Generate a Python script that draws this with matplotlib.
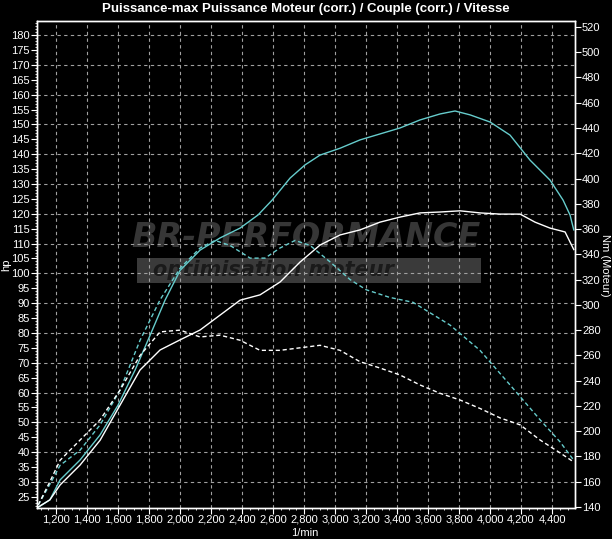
import numpy as np
import matplotlib
matplotlib.use("Agg")
import matplotlib.pyplot as plt
from matplotlib.patches import Rectangle
from matplotlib.ticker import MultipleLocator

plt.rcParams['font.family'] = ['Liberation Sans Narrow', 'Liberation Sans', 'DejaVu Sans']

# run 1 (cyan): power hp / torque Nm
rpm_p1 = [1085, 1160, 1226, 1355, 1484, 1600, 1710, 1794, 1903, 2000, 2129, 2258, 2387,
          2503, 2594, 2710, 2806, 2903, 3032, 3161, 3290, 3419, 3548, 3677, 3774, 3871,
          4000, 4129, 4258, 4387, 4471, 4516, 4540]
hp_p1 = [21.5, 24, 30.7, 37.4, 45.8, 55.8, 67.6, 77.7, 91, 101, 107.8, 111.9, 115.2,
         119.6, 124.6, 132, 136.4, 139.7, 142, 144.8, 146.8, 148.8, 151.5, 153.5, 154.5,
         153.2, 150.8, 146.4, 138, 131.3, 124.6, 119.6, 114.6]
rpm_t1 = [1085, 1160, 1226, 1355, 1484, 1613, 1742, 1871, 2000, 2129, 2226, 2323, 2452,
          2548, 2645, 2742, 2839, 2968, 3097, 3200, 3350, 3503, 3742, 3935, 4129, 4323,
          4452, 4540]
nm_t1 = [141.6, 158, 173, 185, 205, 232.6, 272, 304, 329, 345, 351, 347, 337, 337, 345,
         351, 347, 334, 320, 312, 306, 302, 284, 264, 236.6, 209, 191.5, 177]

# run 2 (white): power hp / torque Nm
rpm_p2 = [1085, 1160, 1226, 1355, 1484, 1613, 1742, 1871, 2000, 2129, 2258, 2387, 2516,
          2645, 2774, 2903, 3032, 3161, 3290, 3419, 3548, 3677, 3806, 3935, 4065, 4194,
          4290, 4387, 4484, 4540]
hp_p2 = [21.6, 24, 29, 35.7, 44, 55.8, 67.6, 74.3, 77.7, 81, 86, 91, 92.8, 97.1, 103.8,
         109.5, 112.9, 114.6, 117.2, 118.9, 120.3, 120.6, 121, 120.3, 119.9, 119.9,
         117.2, 115.2, 113.9, 108]
rpm_t2 = [1085, 1160, 1226, 1355, 1484, 1613, 1742, 1871, 2000, 2129, 2258, 2387, 2516,
          2645, 2774, 2903, 3032, 3161, 3290, 3419, 3548, 3677, 3806, 3935, 4065, 4194,
          4323, 4452, 4540]
nm_t2 = [141.6, 160, 177, 193, 209, 232.6, 260, 278.6, 280, 274.6, 276, 272, 264, 264,
         266, 268, 264, 255, 250, 244.5, 236.6, 230, 224.7, 218, 210.5, 205, 193, 182.8,
         175.6]

x_ticks = np.arange(1200, 4401, 200)
hp_ticks = np.arange(25, 181, 5)
hp_grid = np.arange(30, 181, 10)
nm_ticks = np.arange(140, 521, 20)

cyan = '#66cccc'
fig = plt.figure(figsize=(6.12, 5.39), dpi=100, facecolor='black')
ax = fig.add_axes([37 / 612, 31 / 539, 538 / 612, 487 / 539], facecolor='black')
ax2 = ax.twinx()

ax.set_xlim(1077, 4548)
ax.set_ylim(21.27, 184.7)
ax2.set_ylim(139.2, 524.7)

# watermark
ax.text(0.5, 0.555, 'BR-PERFORMANCE', transform=ax.transAxes, ha='center', va='center',
        fontsize=24, fontweight='bold', style='italic', color='#363636',
        family=['DejaVu Sans'], zorder=0)
ax.add_patch(Rectangle((0.185, 0.462), 0.64, 0.052, transform=ax.transAxes,
                       facecolor='#3a3a3a', edgecolor='none', zorder=0))
ax.text(0.44, 0.488, 'optimisation moteur', transform=ax.transAxes, ha='center',
        va='center', fontsize=15, style='italic', fontweight='bold', color='#1a1a1a',
        family=['DejaVu Sans'], zorder=0)

for v in hp_grid:
    ax.axhline(v, color='#a0a0a0', lw=0.8, ls=(0, (3, 3)), zorder=1)
for v in x_ticks:
    ax.axvline(v, color='#a0a0a0', lw=0.8, ls=(0, (3, 3)), zorder=1)

ax.plot(rpm_p1, hp_p1, color=cyan, lw=1.0, zorder=3)
ax.plot(rpm_p2, hp_p2, color='white', lw=1.0, zorder=3)
ax2.plot(rpm_t1, nm_t1, color=cyan, lw=1.0, ls=(0, (3, 2)), zorder=3)
ax2.plot(rpm_t2, nm_t2, color='white', lw=1.0, ls=(0, (3, 2)), zorder=3)

ax.set_xticks(x_ticks)
ax.set_xticklabels([f'{v:,}' for v in x_ticks])
ax.set_yticks(hp_ticks)
ax.yaxis.set_minor_locator(MultipleLocator(1))
ax.xaxis.set_minor_locator(MultipleLocator(50))
ax2.set_yticks(nm_ticks)

for a in (ax, ax2):
    for s in a.spines.values():
        s.set_color('white')
        s.set_linewidth(1.0)
    a.tick_params(colors='white', labelsize=8, length=4, width=0.8, pad=1)
    a.tick_params(which='minor', colors='white', length=1.5, width=0.6)
ax.tick_params(axis='x', pad=0.5)

fig.text(6 / 612, 1 - 265 / 539, 'hp', color='white', fontsize=8, rotation=90,
         ha='center', va='center')
fig.text(605 / 612, 1 - 265 / 539, 'Nm (Moteur)', color='white', fontsize=8,
         rotation=270, ha='center', va='center')
fig.text(305 / 612, 1 - 533 / 539, '1/min', color='white', fontsize=8,
         ha='center', va='center')
fig.text(0.5, 1 - 9 / 539, 'Puissance-max Puissance Moteur (corr.) / Couple (corr.) / Vitesse',
         color='white', fontsize=9.5, fontweight='bold', ha='center', va='center')

fig.savefig('out.png', dpi=100, facecolor='black')
